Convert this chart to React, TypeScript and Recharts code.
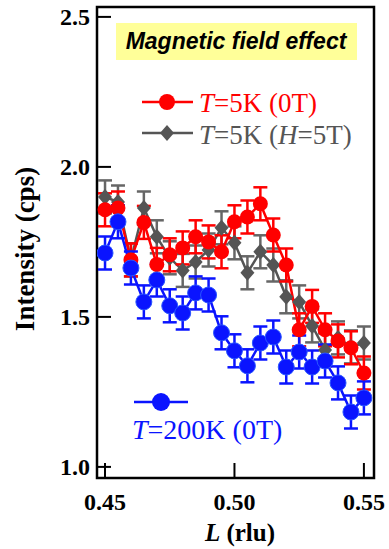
import React from 'react';
import { LineChart, Line, XAxis, YAxis, ErrorBar, ReferenceArea } from 'recharts';

// L (rlu) positions of the scan
const L = [0.45, 0.455, 0.46, 0.465, 0.47, 0.475, 0.48, 0.485, 0.49, 0.495, 0.5,
  0.505, 0.51, 0.515, 0.52, 0.525, 0.53, 0.535, 0.54, 0.545, 0.55];

// T=5K (0T)
const red = [1.857, 1.863, 1.69, 1.815, 1.675, 1.707, 1.73, 1.767, 1.75, 1.717, 1.817,
  1.833, 1.877, 1.773, 1.673, 1.457, 1.535, 1.457, 1.42, 1.397, 1.313];
const redErr = [0.055, 0.055, 0.055, 0.055, 0.055, 0.055, 0.055, 0.055, 0.055, 0.055, 0.055,
  0.055, 0.055, 0.055, 0.055, 0.055, 0.055, 0.055, 0.055, 0.055, 0.055];

// T=5K (H=5T)
const gray = [1.9, 1.883, 1.69, 1.863, 1.767, 1.697, 1.655, 1.683, 1.723, 1.797, 1.747,
  1.647, 1.717, 1.673, 1.567, 1.55, 1.47, 1.39, 1.43, 1.4, 1.413];
const grayErr = [0.055, 0.055, 0.055, 0.055, 0.055, 0.055, 0.055, 0.055, 0.055, 0.055, 0.055,
  0.055, 0.055, 0.055, 0.055, 0.055, 0.055, 0.055, 0.055, 0.055, 0.055];

// T=200K (0T)
const blue = [1.713, 1.817, 1.663, 1.55, 1.623, 1.537, 1.513, 1.58, 1.573, 1.447, 1.387,
  1.337, 1.413, 1.433, 1.333, 1.383, 1.333, 1.353, 1.28, 1.183, 1.23];
const blueErr = [0.055, 0.055, 0.055, 0.055, 0.055, 0.055, 0.055, 0.055, 0.055, 0.055, 0.055,
  0.055, 0.055, 0.055, 0.055, 0.055, 0.055, 0.055, 0.055, 0.055, 0.055];

const xTicks = [0.45, 0.5, 0.55];
const yTicks = [1.0, 1.5, 2.0, 2.5];
const xDomain = [0.4469, 0.5539];
const yDomain = [0.963, 2.533];

const data = L.map((l, i) => ({
  l,
  red: red[i], redErr: redErr[i],
  gray: gray[i], grayErr: grayErr[i],
  blue: blue[i], blueErr: blueErr[i],
}));

const RED = '#ff0000';
const GRAY = '#555555';
const BLUE = '#0a14ff';

const tickFont = { fontFamily: '"Liberation Serif", serif', fontWeight: 700, fontSize: 24, fill: '#000' };

// with tickSize=0 and tickMargin=0 the tick x/y sit on the axis line
const renderYTick = (props: any) => {
  const { x, y, payload } = props;
  return (
    <g>
      <line x1={x} x2={x + 14} y1={y} y2={y} stroke="#000" strokeWidth={2} />
      <text x={x - 7} y={y + 8} textAnchor="end" style={tickFont}>{Number(payload.value).toFixed(1)}</text>
    </g>
  );
};

const renderXTick = (props: any) => {
  const { x, y, payload } = props;
  return (
    <g>
      <line x1={x} x2={x} y1={y} y2={y - 15} stroke="#000" strokeWidth={2} />
      <text x={x} y={y + 32} textAnchor="middle" style={tickFont}>{Number(payload.value).toFixed(2)}</text>
    </g>
  );
};

const Diamond = (props: any) => {
  const { cx, cy, index } = props;
  if (cx == null || cy == null) return <g key={index} />;
  return (
    <path key={index} d={`M${cx},${cy - 8}L${cx + 7},${cy}L${cx},${cy + 8}L${cx - 7},${cy}Z`} fill={GRAY} />
  );
};

const legendText = { fontFamily: '"Liberation Serif", serif', fontSize: 27 };

const App = () => {
  return (
    <div style={{ position: 'absolute', left: 0, top: 0, width: 389, height: 549, background: '#fff' }}>
      <LineChart width={389} height={549} data={data} margin={{ top: 7, right: 15, bottom: 11, left: 37 }}>
        <XAxis dataKey="l" type="number" domain={xDomain} ticks={xTicks} allowDataOverflow
          height={60} tickSize={0} tickMargin={0} axisLine={false} tick={renderXTick}
          label={{
            content: () => (
              <text x={240} y={541} textAnchor="middle" style={{ ...tickFont, fontSize: 25 }}>
                <tspan fontStyle="italic">L</tspan> (rlu)
              </text>
            ),
          }} />
        <YAxis type="number" domain={yDomain} ticks={yTicks} allowDataOverflow
          width={60} tickSize={0} tickMargin={0} axisLine={false} tick={renderYTick}
          label={{
            content: () => (
              <text x={34} y={249} textAnchor="middle" transform="rotate(-90 34 249)" style={{ ...tickFont, fontSize: 27 }}>
                Intensity (cps)
              </text>
            ),
          }} />
        <ReferenceArea x1={xDomain[0]} x2={xDomain[1]} y1={yDomain[0]} y2={yDomain[1]}
          fill="none" stroke="#000" strokeWidth={2.5} fillOpacity={0} strokeOpacity={1} />
        <Line dataKey="gray" stroke={GRAY} strokeWidth={2.5} isAnimationActive={false} dot={<Diamond />}>
          <ErrorBar dataKey="grayErr" direction="y" width={7} stroke="#666" strokeWidth={2.5} isAnimationActive={false} />
        </Line>
        <Line dataKey="red" stroke={RED} strokeWidth={2.5} isAnimationActive={false}
          dot={{ r: 7.5, fill: RED, stroke: 'none' }}>
          <ErrorBar dataKey="redErr" direction="y" width={7} stroke={RED} strokeWidth={2.5} isAnimationActive={false} />
        </Line>
        <Line dataKey="blue" stroke={BLUE} strokeWidth={2.5} isAnimationActive={false}
          dot={{ r: 8, fill: BLUE, stroke: '#2a55ff', strokeWidth: 1 }}>
          <ErrorBar dataKey="blueErr" direction="y" width={7} stroke={BLUE} strokeWidth={2.5} isAnimationActive={false} />
        </Line>
      </LineChart>

      {/* legend and title box */}
      <svg width={389} height={549} style={{ position: 'absolute', left: 0, top: 0, pointerEvents: 'none' }}>
        <rect x={116} y={23} width={241} height={37} fill="#ffff99" />
        <text x={236} y={49} textAnchor="middle"
          style={{ fontFamily: '"Liberation Sans", Arial, sans-serif', fontWeight: 700, fontStyle: 'italic', fontSize: 23 }}>
          Magnetic field effect
        </text>

        <line x1={142} x2={193} y1={102} y2={102} stroke={RED} strokeWidth={2.5} />
        <circle cx={167} cy={102} r={8} fill={RED} />
        <text x={199} y={112} fill={RED} style={legendText}>
          <tspan fontStyle="italic">T</tspan>=5K (0T)
        </text>

        <line x1={142} x2={193} y1={133} y2={133} stroke={GRAY} strokeWidth={2.5} />
        <path d="M167,125L174,133L167,141L160,133Z" fill={GRAY} />
        <text x={199} y={144} fill={GRAY} style={legendText}>
          <tspan fontStyle="italic">T</tspan>=5K (<tspan fontStyle="italic">H</tspan>=5T)
        </text>

        <line x1={134} x2={188} y1={402} y2={402} stroke={BLUE} strokeWidth={2.5} />
        <circle cx={161} cy={402} r={9} fill={BLUE} />
        <text x={132} y={439} fill={BLUE} style={{ ...legendText, fontSize: 28 }}>
          <tspan fontStyle="italic">T</tspan>=200K (0T)
        </text>
      </svg>
    </div>
  );
};

export default App;
